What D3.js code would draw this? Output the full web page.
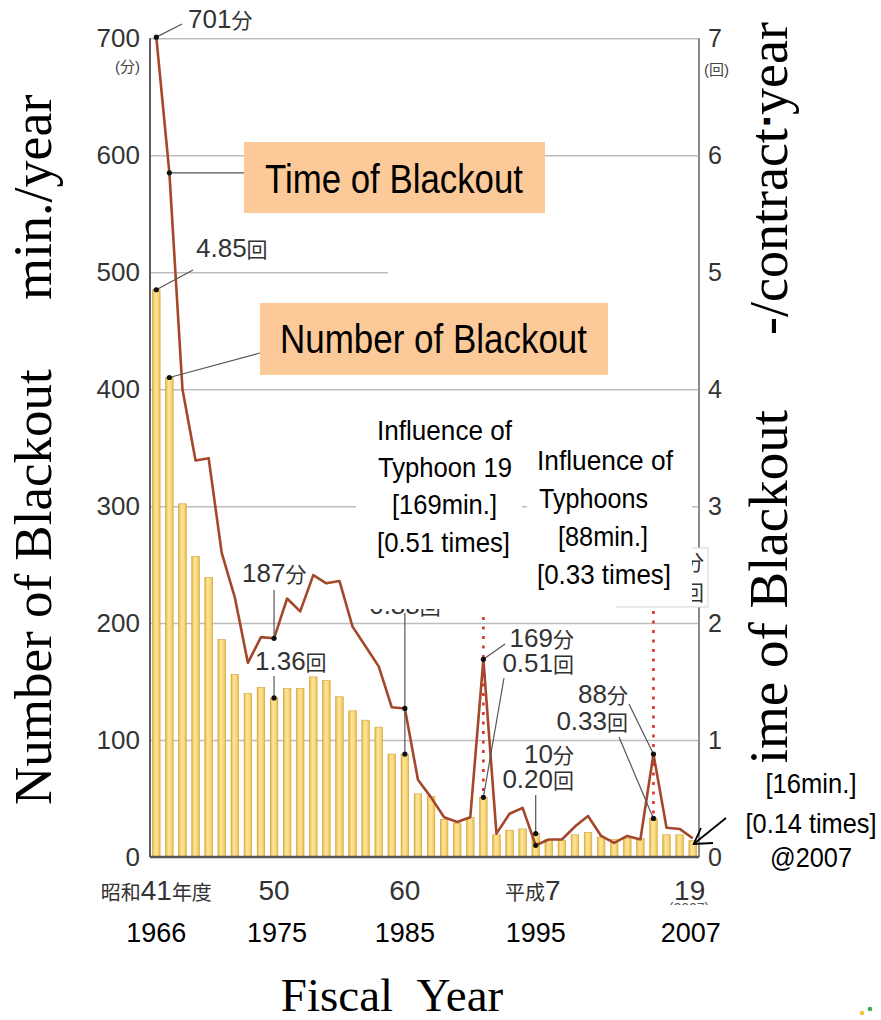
<!DOCTYPE html>
<html><head><meta charset="utf-8">
<script src="https://cdn.jsdelivr.net/npm/d3@7"></script>
<style>body{margin:0;background:#fff} svg{display:block}</style>
</head><body>
<svg id="c" width="881" height="1020"></svg>
<script>
// ---------- data ----------
const years = [1966,1967,1968,1969,1970,1971,1972,1973,1974,1975,1976,1977,1978,1979,1980,1981,1982,1983,1984,1985,1986,1987,1988,1989,1990,1991,1992,1993,1994,1995,1996,1997,1998,1999,2000,2001,2002,2003,2004,2005,2006,2007];
const minutes = [701,585,400,339,341,260,222,166,188,187,221,210,241,234,236,197,180,163,128,127,66,51,34,30,34,169,20,37,42,10,15,15,26,35,18,12,18,15,88,25,24,16];
const counts = [4.85,4.10,3.02,2.57,2.39,1.86,1.56,1.40,1.45,1.36,1.44,1.44,1.54,1.51,1.37,1.25,1.17,1.11,0.88,0.88,0.54,0.52,0.32,0.29,0.34,0.51,0.19,0.23,0.24,0.20,0.15,0.14,0.19,0.21,0.17,0.15,0.16,0.16,0.33,0.19,0.19,0.14];
const leftTicks = [0,100,200,300,400,500,600,700];
const rightTicks = [0,1,2,3,4,5,6,7];
const axisYears = [1966,1975,1985,1995,2007];
const jpLabels = ["昭和41年度","50","60","平成7","19"];
const adLabels = ["1966","1975","1985","1995","2007"];
const markedYears = [1966,1967,1975,1985,1991,1995,2004];

// ---------- setup ----------
const svg = d3.select("#c");
const L = 150, R = 699, B = 857, T = 38.3;
const x = d3.scaleLinear().domain([1966,2007]).range([156.3,692.7]);
const yL = d3.scaleLinear().domain([0,700]).range([B,T]);
const yR = d3.scaleLinear().domain([0,7]).range([B,T]);
const SANS = "'Liberation Sans', Arial, 'Noto Sans CJK JP', sans-serif";
const SERIF = "'Liberation Serif', 'Times New Roman', 'Noto Serif CJK JP', 'Noto Sans CJK JP', serif";

const defs = svg.append("defs");
const grad = defs.append("linearGradient").attr("id","barg").attr("x1","0").attr("x2","1").attr("y1","0").attr("y2","0");
[["0%","#e4b240"],["35%","#fde597"],["65%","#fadc84"],["100%","#ebbb4c"]].forEach(s=>grad.append("stop").attr("offset",s[0]).attr("stop-color",s[1]));

// gridlines
svg.append("g").attr("transform",`translate(${L},0)`)
  .call(d3.axisLeft(yL).tickValues(leftTicks.slice(1)).tickSize(-(R-L)).tickFormat(""))
  .call(g=>g.select(".domain").remove())
  .call(g=>g.selectAll("line").attr("stroke","#bdbdbd").attr("stroke-width",1.5));
// blank strip hiding part of 500 gridline (as in reference)
svg.append("rect").attr("x",388).attr("y",266).attr("width",310).attr("height",12).attr("fill","#fff");

// bars
const bw = 7.6;
svg.append("g").selectAll("rect").data(years).join("rect")
  .attr("x",(d)=>x(d)-bw/2).attr("width",bw)
  .attr("y",(d,i)=>yR(counts[i])).attr("height",(d,i)=>B-yR(counts[i]))
  .attr("fill","url(#barg)").attr("stroke","#d0a03e").attr("stroke-width",0.6);

// red dotted typhoon lines
[[1991,617,0.51],[2004,611,0.33]].forEach(([yr,top,c])=>{
  svg.append("line").attr("x1",x(yr)).attr("x2",x(yr)).attr("y1",top).attr("y2",yR(c))
    .attr("stroke","#e0302c").attr("stroke-width",2.6).attr("stroke-dasharray","3,6.5");
});

// time line
svg.append("path").datum(years)
  .attr("d",d3.line().x(d=>x(d)).y((d,i)=>yL(minutes[i])))
  .attr("fill","none").attr("stroke","#a4472b").attr("stroke-width",2.6).attr("stroke-linejoin","round");

// axis lines
svg.append("line").attr("x1",L).attr("x2",L).attr("y1",T).attr("y2",B).attr("stroke","#4a4a4a").attr("stroke-width",1.8);
svg.append("line").attr("x1",R).attr("x2",R).attr("y1",T).attr("y2",B).attr("stroke","#8a8a8a").attr("stroke-width",2);
svg.append("line").attr("x1",L).attr("x2",R).attr("y1",B).attr("y2",B).attr("stroke","#555").attr("stroke-width",2.5);

// tick labels
svg.append("g").attr("transform",`translate(${L},0)`)
  .call(d3.axisLeft(yL).tickValues(leftTicks).tickSize(0).tickPadding(10).tickFormat(d3.format("d")))
  .call(g=>g.select(".domain").remove())
  .call(g=>g.selectAll("text").attr("font-family",SANS).attr("font-size",26).attr("fill","#333"));
svg.append("g").attr("transform",`translate(${R},0)`)
  .call(d3.axisRight(yR).tickValues(rightTicks).tickSize(0).tickPadding(9).tickFormat(d3.format("d")))
  .call(g=>g.select(".domain").remove())
  .call(g=>g.selectAll("text").attr("font-family",SANS).attr("font-size",25).attr("fill","#333"));
svg.append("text").attr("x",140).attr("y",72).attr("text-anchor","end").attr("font-family",SANS).attr("font-size",15).attr("fill","#444").text("(分)");
svg.append("text").attr("x",704).attr("y",75).attr("font-family",SANS).attr("font-size",15).attr("fill","#444").text("(回)");

// mixed digit / CJK label helper
function mixed(g, px, py, str, anchor, ns, cs, fill){
  const t = g.append("text").attr("x",px).attr("y",py).attr("text-anchor",anchor)
    .attr("font-family",SANS).attr("fill",fill||"#333");
  str.split(/([0-9.]+)/).filter(s=>s.length).forEach(s=>{
    t.append("tspan").attr("font-size",/[0-9]/.test(s)?ns:cs).text(s);
  });
  return t;
}

// bottom labels
const bl = svg.append("g");
bl.append("text").attr("x",689).attr("y",913).attr("text-anchor","middle").attr("font-family",SANS).attr("font-size",14).attr("fill","#555").text("(2007)");
bl.append("rect").attr("x",650).attr("y",905).attr("width",80).attr("height",12).attr("fill","#fff");
axisYears.forEach((yr,i)=>{
  mixed(bl, x(yr)+(i==4?-3:(i==3?-3:0)), 900, jpLabels[i], "middle", 28, 20, "#333");
  bl.append("text").attr("x",x(yr)+(i==1?3:(i==4?-2:0))).attr("y",942).attr("text-anchor","middle")
    .attr("font-family",SANS).attr("font-size",27).attr("fill","#000").text(adLabels[i]);
});

// leaders
const leaders = svg.append("g").attr("stroke","#555").attr("stroke-width",1.2).attr("fill","none");
const idx = yr=>years.indexOf(yr);
const pl = yr=>[x(yr), yL(minutes[idx(yr)])];
const pb = yr=>[x(yr), yR(counts[idx(yr)])];
function seg(a,b){ leaders.append("line").attr("x1",a[0]).attr("y1",a[1]).attr("x2",b[0]).attr("y2",b[1]); }
seg(pl(1966),[182,24]);
seg(pb(1966),[193,270]);
seg(pl(1967),[244,pl(1967)[1]]);
seg(pb(1967),[260,353]);
seg(pl(1975),[x(1975),590]);
seg(pb(1975),[x(1975),676]);
seg(pb(1985),[x(1985),613]);
seg(pl(1991),[505,644]);
seg(pb(1991),[504,678]);
seg(pb(1995),[x(1995),795]);
seg(pl(2004),[629,704]);
seg(pb(2004),[619,737]);

// markers
const mk = svg.append("g").attr("fill","#111");
markedYears.forEach(yr=>{
  mk.append("circle").attr("cx",pl(yr)[0]).attr("cy",pl(yr)[1]).attr("r",2.6);
  mk.append("circle").attr("cx",pb(yr)[0]).attr("cy",pb(yr)[1]).attr("r",2.6);
});

// value labels
const vl = svg.append("g");
mixed(vl,188,28,"701分","start",26,21);
mixed(vl,196,257,"4.85回","start",26,21);
mixed(vl,242,582,"187分","start",26,21);
mixed(vl,255,670,"1.36回","start",26,21);
mixed(vl,405,614,"0.88回","middle",26,21);
mixed(vl,574,647,"169分","end",26,21);
mixed(vl,574,672,"0.51回","end",26,21);
mixed(vl,574,763,"10分","end",26,21);
mixed(vl,574,788,"0.20回","end",26,21);
mixed(vl,628,703,"88分","end",26,21);
mixed(vl,628,730,"0.33回","end",26,21);

// small partially hidden label box at right axis
svg.append("rect").attr("x",617).attr("y",548).attr("width",91).attr("height",59).attr("fill","#fff").attr("stroke","#dcdcdc").attr("stroke-width",1.2);
mixed(svg,704,570,"16分","end",26,21);
mixed(svg,704,600,"0.14回","end",26,21);

// white annotation boxes
svg.append("rect").attr("x",356).attr("y",404).attr("width",166).attr("height",205).attr("fill","#fff");
svg.append("rect").attr("x",527).attr("y",440).attr("width",165).attr("height",166).attr("fill","#fff");

// annotation texts
function fitText(px,py,str,len,size,anchor){
  svg.append("text").attr("x",px).attr("y",py).attr("text-anchor",anchor||"start")
    .attr("font-family",SANS).attr("font-size",size).attr("fill","#000")
    .attr("textLength",len).attr("lengthAdjust","spacingAndGlyphs").text(str);
}
fitText(377,440,"Influence of",135,28);
fitText(378,477,"Typhoon 19",134,28);
fitText(392,514,"[169min.]",105,28);
fitText(377,552,"[0.51 times]",133,28);
fitText(537,470,"Influence of",136,28);
fitText(539,508,"Typhoons",109,28);
fitText(558,546,"[88min.]",90,28);
fitText(537,584,"[0.33 times]",134,28);

// orange legend boxes
svg.append("rect").attr("x",244).attr("y",142).attr("width",301).attr("height",71).attr("fill","#fcc999");
svg.append("rect").attr("x",260).attr("y",303).attr("width",348).attr("height",72).attr("fill","#fcc999");
fitText(265,193,"Time of Blackout",258,40);
fitText(280,353,"Number of Blackout",307,40);

// big rotated axis titles
function rot(px,py,parts){
  const t = svg.append("text").attr("transform",`translate(${px},${py}) rotate(-90)`)
    .attr("font-family",SERIF).attr("fill","#000");
  parts.forEach(p=>{ const s=t.append("tspan").attr("font-size",p[1]).text(p[0]); if(p[2]) s.attr("dy",p[2]); if(p[3]) s.attr("dx",p[3]); });
}
rot(51,805,[["Number of Blackout",53]]);
rot(51,300,[["min./year",54]]);
rot(787,796,[["Time of Blackout",55]]);
rot(787,335,[["-/contract",54],["\u25aa",26,-12,2],["year",54,12,2]]);

// bottom title
svg.append("text").attr("x",392).attr("y",1011).attr("text-anchor","middle")
  .attr("font-family",SERIF).attr("font-size",47).attr("fill","#000").text("Fiscal\u00a0\u00a0Year");

// 2007 annotation
svg.append("rect").attr("x",742).attr("y",762).attr("width",139).attr("height",113).attr("fill","#fff");
fitText(811,793,"[16min.]",91,28,"middle");
fitText(811,833,"[0.14 times]",131,28,"middle");
fitText(811,867,"@2007",82,28,"middle");
const ar = svg.append("g").attr("stroke","#000").attr("stroke-width",1.8).attr("fill","none");
ar.append("line").attr("x1",726).attr("y1",818).attr("x2",x(2007)+1).attr("y2",844);
ar.append("polyline").attr("points",`701,828 ${x(2007)+1},844 713,843`);

// tiny logo dots
svg.append("circle").attr("cx",862).attr("cy",1013).attr("r",2.3).attr("fill","#f1c232");
svg.append("circle").attr("cx",870).attr("cy",1009).attr("r",2.3).attr("fill","#3fae49");
</script>
</body></html>
